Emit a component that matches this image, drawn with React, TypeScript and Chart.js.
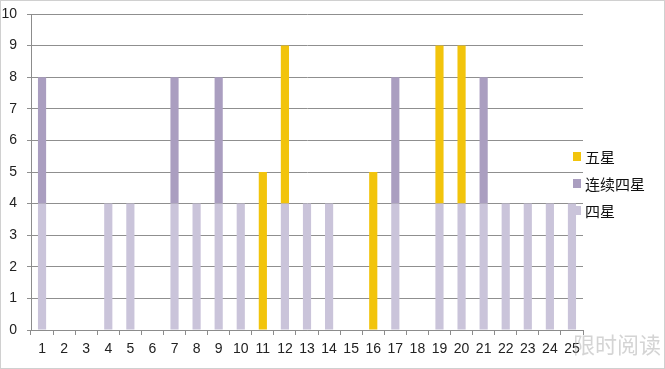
import React, { useEffect, useRef } from "react";
import { Chart, registerables } from "chart.js";

Chart.register(...registerables);

const categories = ["1","2","3","4","5","6","7","8","9","10","11","12","13","14","15","16","17","18","19","20","21","22","23","24","25"];
const siXing = [4,0,0,4,4,0,4,4,4,4,0,4,4,4,0,0,4,0,4,4,4,4,4,4,4];
const lianXuSiXing = [4,0,0,0,0,0,4,0,4,0,0,0,0,0,0,0,4,0,0,0,4,0,0,0,0];
const wuXing = [0,0,0,0,0,0,0,0,0,0,5,5,0,0,0,5,0,0,5,5,0,0,0,0,0];
const yTicks = [0,1,2,3,4,5,6,7,8,9,10];

const COLORS = { wu: "#F2C40C", lian: "#AA9EC0", si: "#CAC4DA" };
const legendItems = [
  { label: "五星", color: COLORS.wu },
  { label: "连续四星", color: COLORS.lian },
  { label: "四星", color: COLORS.si },
];

export default function App() {
  const ref = useRef<HTMLCanvasElement | null>(null);
  useEffect(() => {
    if (!ref.current) return;
    const font = { family: "'Liberation Sans', 'DejaVu Sans', sans-serif", size: 14 };
    const chart = new Chart(ref.current, {
      type: "bar",
      data: {
        labels: categories,
        datasets: [
          { label: "四星", data: siXing, backgroundColor: COLORS.si, stack: "s" },
          { label: "连续四星", data: lianXuSiXing, backgroundColor: COLORS.lian, stack: "s" },
          { label: "五星", data: wuXing, backgroundColor: COLORS.wu, stack: "s" },
        ],
      },
      options: {
        animation: false,
        responsive: false,
        maintainAspectRatio: false,
        layout: { padding: { left: 0, top: 14, right: 82, bottom: 0 } },
        plugins: { legend: { display: false }, tooltip: { enabled: false } },
        datasets: { bar: { barPercentage: 0.37, categoryPercentage: 1 } },
        scales: {
          x: {
            stacked: true,
            offset: true,
            grid: { offset: true, drawOnChartArea: false, drawTicks: true, tickLength: 5, color: "#8c8c8c" },
            border: { display: true, color: "#8c8c8c" },
            ticks: { color: "#222", font, padding: 6, maxRotation: 0, autoSkip: false },
            afterFit: (s: any) => { s.height = 39; s.paddingLeft = 0; s.paddingRight = 0; },
          },
          y: {
            stacked: true,
            min: 0,
            max: 10,
            afterBuildTicks: (s: any) => { s.ticks = yTicks.map((v) => ({ value: v })); },
            grid: { color: "#8f8f8f", drawTicks: true, tickLength: 4 },
            border: { display: true, color: "#8c8c8c" },
            ticks: { color: "#222", font, padding: 10 },
            afterFit: (s: any) => { s.width = 31; s.paddingTop = 0; s.paddingBottom = 0; },
          },
        },
      },
    });
    return () => chart.destroy();
  }, []);

  return (
    <div style={{ position: "absolute", left: 0, top: 0, width: 665, height: 369, background: "#fff", overflow: "hidden", boxSizing: "border-box", border: "1px solid #d0d0d0" }}>
      <canvas ref={ref} width={665} height={369} style={{ position: "absolute", left: -1, top: -1 }} />
      <div style={{ position: "absolute", left: 572, top: 142, fontFamily: "'Noto Sans CJK SC', sans-serif", fontSize: 15, color: "#111" }}>
        {legendItems.map((it) => (
          <div key={it.label} style={{ display: "flex", alignItems: "center", height: 27 }}>
            <span style={{ display: "inline-block", width: 8, height: 9, background: it.color, marginRight: 4 }} />
            <span>{it.label}</span>
          </div>
        ))}
      </div>
      <div style={{ position: "absolute", left: 572, top: 326, fontFamily: "'Noto Sans CJK SC', sans-serif", fontSize: 22, color: "rgba(170,170,170,0.5)" }}>限时阅读</div>
    </div>
  );
}
